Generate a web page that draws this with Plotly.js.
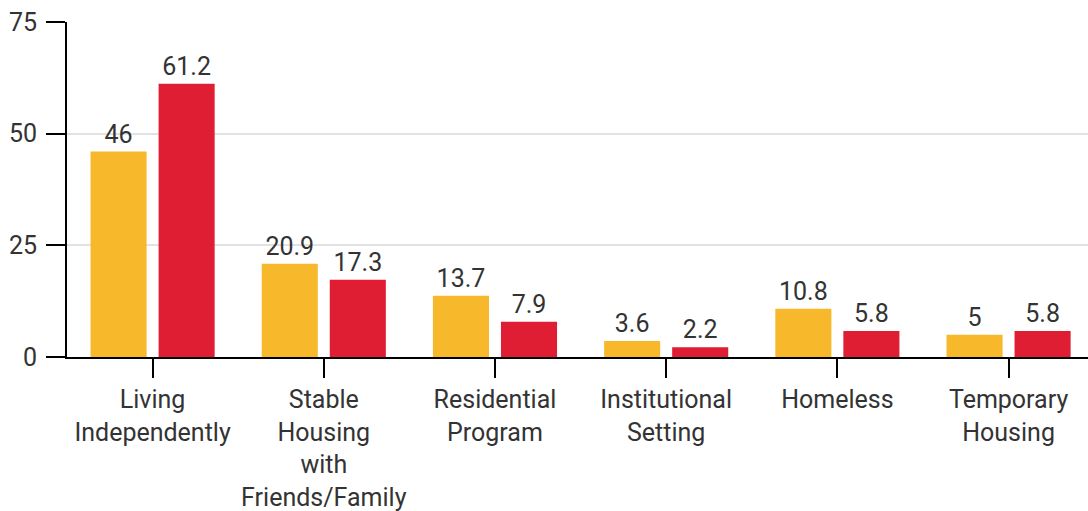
<!DOCTYPE html>
<html>
<head>
<meta charset="utf-8">
<script src="https://cdn.plot.ly/plotly-3.0.1.min.js"></script>
<style>html,body{margin:0;padding:0;background:#fff;}#chart{width:1088px;height:511px;}</style>
</head>
<body>
<div id="chart"></div>
<script>
var categories = ["Living<br>Independently", "Stable<br>Housing<br>with<br>Friends/Family", "Residential<br>Program", "Institutional<br>Setting", "Homeless", "Temporary<br>Housing"];
var seriesA = [46, 20.9, 13.7, 3.6, 10.8, 5];
var seriesB = [61.2, 17.3, 7.9, 2.2, 5.8, 5.8];
var yTicks = [0, 25, 50, 75];

var fontFam = "Roboto, 'Noto Sans', sans-serif";
var txtColor = "#333333";

var traceA = {
  type: "bar", x: categories, y: seriesA,
  marker: {color: "#F7B92B"},
  text: seriesA.map(String), textposition: "outside",
  textfont: {family: fontFam, size: 25, color: txtColor},
  cliponaxis: false, hoverinfo: "none", name: "A"
};
var traceB = {
  type: "bar", x: categories, y: seriesB,
  marker: {color: "#DF1E34"},
  text: seriesB.map(String), textposition: "outside",
  textfont: {family: fontFam, size: 25, color: txtColor},
  cliponaxis: false, hoverinfo: "none", name: "B"
};

var layout = {
  width: 1088, height: 511,
  margin: {l: 67, r: 0, t: 22, b: 154, pad: 0},
  paper_bgcolor: "#fff", plot_bgcolor: "#fff",
  showlegend: false,
  barmode: "group",
  bargap: 0.205,
  bargroupgap: 0.176,
  font: {family: fontFam, size: 25, color: txtColor},
  xaxis: {
    type: "category",
    range: [-0.5, 5.464],
    showline: true, linecolor: "#000", linewidth: 2,
    ticks: "outside", ticklen: 19, tickwidth: 2, tickcolor: "#000",
    showgrid: false, zeroline: false,
    tickfont: {family: fontFam, size: 25, color: txtColor},
    automargin: false
  },
  yaxis: {
    range: [0, 75],
    tickvals: yTicks, ticktext: yTicks.map(String),
    showline: true, linecolor: "#000", linewidth: 2,
    ticks: "outside", ticklen: 19, tickwidth: 2, tickcolor: "#000",
    showgrid: true, gridcolor: "#e2e2e2", gridwidth: 2,
    zeroline: false,
    ticklabelstandoff: 4,
    tickfont: {family: fontFam, size: 25, color: txtColor},
    automargin: false
  }
};

Plotly.newPlot("chart", [traceA, traceB], layout, {displayModeBar: false, staticPlot: true});
</script>
</body>
</html>
